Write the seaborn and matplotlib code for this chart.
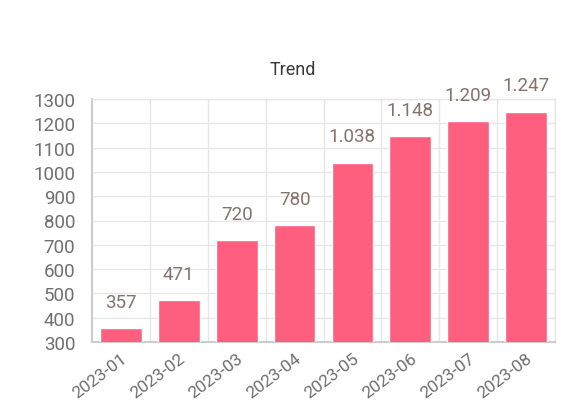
import matplotlib
matplotlib.use("Agg")
import matplotlib.pyplot as plt
import seaborn as sns
import pandas as pd
import numpy as np

months = ["2023-01", "2023-02", "2023-03", "2023-04", "2023-05", "2023-06", "2023-07", "2023-08"]
values = [357, 471, 720, 780, 1038, 1148, 1209, 1247]
yticks = [300, 400, 500, 600, 700, 800, 900, 1000, 1100, 1200, 1300]
title = "Trend"

sns.set_theme(style="white")
plt.rcParams["font.family"] = ["Roboto", "DejaVu Sans"]

df = pd.DataFrame({"month": months, "value": values})

fig = plt.figure(figsize=(5.73, 4.10), dpi=100)
ax = fig.add_axes([92 / 573, 1 - 343 / 410, (555 - 92) / 573, (343 - 100) / 410])

sns.barplot(data=df, x="month", y="value", color="#FF5F7E", saturation=1, width=0.72, ax=ax, zorder=3)

ax.set_ylim(300, 1300)
ax.set_xlim(-0.5, len(months) - 0.5)
ax.set_yticks(yticks)
ax.set_yticklabels([str(t) for t in yticks], fontsize=13.5, color="#6f6f6f")
ax.set_xticks(range(len(months)))
ax.set_xticklabels(months, rotation=37, ha="right", rotation_mode="anchor", fontsize=12.5, color="#6f6f6f")
ax.tick_params(axis="x", which="major", length=0, pad=6)
ax.set_xticks(np.arange(-0.5, len(months), 1.0), minor=True)
ax.tick_params(axis="x", which="minor", length=9, width=1, color="#dddddd", direction="out")
ax.tick_params(axis="y", which="major", length=6, width=1, color="#dddddd", pad=6)
ax.set_xlabel("")
ax.set_ylabel("")

ax.grid(True, axis="y", which="major", color="#e6e6e6", lw=1, zorder=0)
ax.grid(True, axis="x", which="minor", color="#e6e6e6", lw=1, zorder=0)
ax.set_axisbelow(True)

for s in ["top", "right"]:
    ax.spines[s].set_color("#e6e6e6")
    ax.spines[s].set_linewidth(1)
for s in ["left", "bottom"]:
    ax.spines[s].set_color("#cccccc")
    ax.spines[s].set_linewidth(1.5)

for i, v in enumerate(values):
    lab = f"{v:,}".replace(",", ".")
    ax.annotate(lab, (i, v), xytext=(0, 19), textcoords="offset points",
                ha="center", va="center", fontsize=13.5, color="#85736b", annotation_clip=False)

fig.text(293 / 573, 1 - 70 / 410, title, ha="center", va="center", fontsize=13, color="#3a3a3a")

fig.savefig("out.png", dpi=100, facecolor="white")
